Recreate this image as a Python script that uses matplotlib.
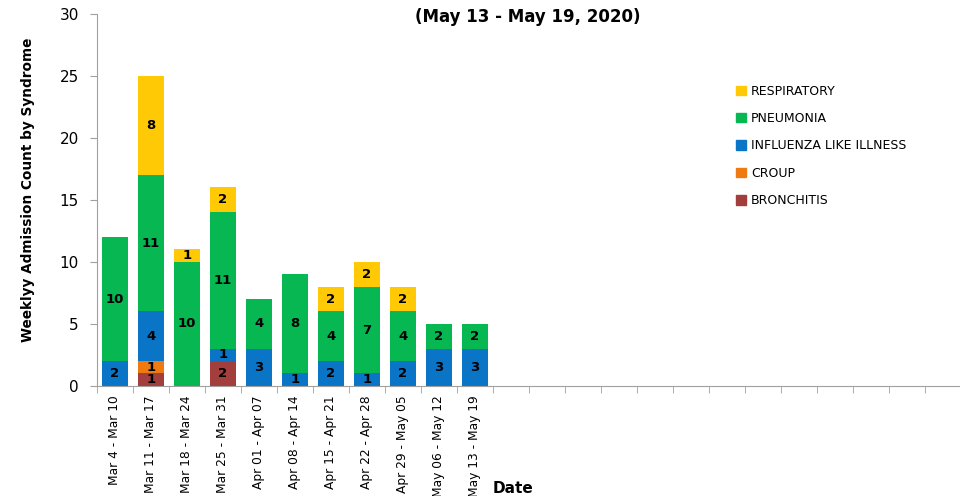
import numpy as np
import matplotlib
matplotlib.use('Agg')
import matplotlib.pyplot as plt
from matplotlib.patches import Patch

weeks = ['Mar 4 - Mar 10', 'Mar 11 - Mar 17', 'Mar 18 - Mar 24', 'Mar 25 - Mar 31',
         'Apr 01 - Apr 07', 'Apr 08 - Apr 14', 'Apr 15 - Apr 21', 'Apr 22 - Apr 28',
         'Apr 29 - May 05', 'May 06 - May 12', 'May 13 - May 19']
n_slots = 24

bronchitis = [0, 1, 0, 2, 0, 0, 0, 0, 0, 0, 0]
croup = [0, 1, 0, 0, 0, 0, 0, 0, 0, 0, 0]
influenza = [2, 4, 0, 1, 3, 1, 2, 1, 2, 3, 3]
pneumonia = [10, 11, 10, 11, 4, 8, 4, 7, 4, 2, 2]
respiratory = [0, 8, 1, 2, 0, 0, 2, 2, 2, 0, 0]

series = [('BRONCHITIS', bronchitis, '#A23E3B'),
          ('CROUP', croup, '#F07A12'),
          ('INFLUENZA LIKE ILLNESS', influenza, '#0A74C6'),
          ('PNEUMONIA', pneumonia, '#07B752'),
          ('RESPIRATORY', respiratory, '#FFCA05')]

fig = plt.figure(figsize=(9.6, 4.96), dpi=100)
ax = fig.add_axes([0.101, 0.222, 0.9, 0.75])

x = np.arange(len(weeks))
bottom = np.zeros(len(weeks))
for name, vals, color in series:
    vals = np.array(vals, dtype=float)
    ax.bar(x, vals, bottom=bottom, width=0.72, color=color, edgecolor='none', zorder=2)
    for xi, b, v in zip(x, bottom, vals):
        if v > 0:
            ax.text(xi, b + v / 2, f"{int(v)}", ha='center', va='center',
                    fontsize=9.5, fontweight='bold', color='black', zorder=3)
    bottom += vals

ax.set_xlim(-0.5, n_slots - 0.5)
ax.set_ylim(0, 30)
ax.set_yticks(range(0, 31, 5))
ax.tick_params(axis='y', labelsize=11, length=5, color='#A0A0A0', pad=8)

ax.set_xticks(x)
ax.set_xticklabels(weeks, rotation=90, fontsize=8.8)
ax.set_xticks(np.arange(-0.5, n_slots, 1), minor=True)
ax.tick_params(axis='x', which='major', length=0, pad=7)
ax.tick_params(axis='x', which='minor', length=5, color='#A0A0A0')

for s in ['top', 'right']:
    ax.spines[s].set_visible(False)
for s in ['left', 'bottom']:
    ax.spines[s].set_color('#A0A0A0')

ax.set_ylabel('Weeklyy Admission Count by Syndrome', fontsize=9.8, fontweight='bold')
ax.yaxis.set_label_coords(-0.072, 0.527)
fig.text(0.534, 0.016, 'Date', fontsize=11, fontweight='bold', ha='center', va='center')
fig.text(0.55, 0.965, '(May 13 - May 19, 2020)', fontsize=12, fontweight='bold', ha='center', va='center')

handles = [Patch(color=c, label=n) for n, v, c in series[::-1]]
leg = fig.legend(handles=handles, loc='upper left', bbox_to_anchor=(0.755, 0.852),
                 frameon=False, fontsize=9, handlelength=0.8, handleheight=0.8,
                 handletextpad=0.4, labelspacing=1.15)

fig.savefig('out.png', dpi=100)
